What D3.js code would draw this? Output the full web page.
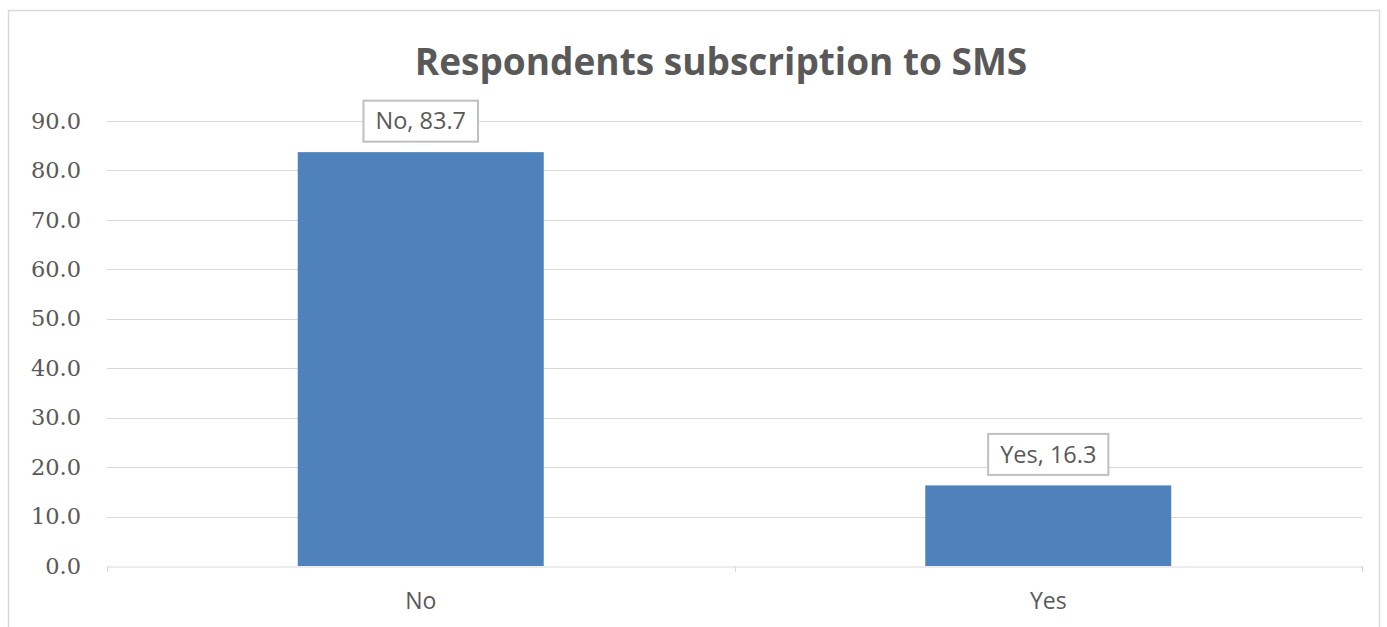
<!DOCTYPE html>
<html><head><meta charset="utf-8">
<script src="https://cdn.jsdelivr.net/npm/d3@7"></script>
<style>body{margin:0;background:#fff}svg{display:block}</style>
</head><body>
<svg id="c" width="1387" height="627"></svg>
<script>
const title = "Respondents subscription to SMS";
const categories = ["No", "Yes"];
const values = [83.7, 16.3];
const yTicks = [0, 10, 20, 30, 40, 50, 60, 70, 80, 90];

const svg = d3.select("#c");
const W = 1387, H = 627;
const m = {left: 107, right: 25, top: 121, bottom: 61};
const textColor = "#595959";

svg.append("rect").attr("x", 8.5).attr("y", 10.5).attr("width", 1371).attr("height", 630)
  .attr("fill", "#fff").attr("stroke", "#d9d9d9").attr("stroke-width", 1.5);

const x = d3.scaleBand().domain(categories).range([m.left, W - m.right]).padding(0);
const y = d3.scaleLinear().domain([0, 90]).range([H - m.bottom, m.top]);

// gridlines
svg.append("g").selectAll("line").data(yTicks.filter(d => d > 0)).join("line")
  .attr("x1", m.left).attr("x2", W - m.right)
  .attr("y1", d => Math.round(y(d)) + 0.5).attr("y2", d => Math.round(y(d)) + 0.5)
  .attr("stroke", "#d9d9d9").attr("stroke-width", 1);

// y labels
const yAxis = svg.append("g").attr("transform", `translate(${m.left},0)`)
  .call(d3.axisLeft(y).tickValues(yTicks).tickFormat(d3.format(".1f")).tickSize(0).tickPadding(26));
yAxis.select(".domain").remove();
yAxis.selectAll("text").attr("fill", textColor).style("font-family", "'DejaVu Serif'")
  .style("font-size", "22.5px");

// bars
const bw = x.bandwidth() * 0.392;
svg.append("g").selectAll("rect").data(values).join("rect")
  .attr("x", (d, i) => x(categories[i]) + (x.bandwidth() - bw) / 2)
  .attr("width", bw)
  .attr("y", d => y(d))
  .attr("height", d => y(0) - y(d))
  .attr("fill", "#4f81bd");

// x axis
const xAxis = svg.append("g").attr("transform", `translate(0,${Math.round(y(0)) + 0.5})`)
  .call(d3.axisBottom(x).tickSize(0).tickPadding(26));
xAxis.select(".domain").attr("stroke", "#d9d9d9");
xAxis.selectAll("text").attr("fill", textColor).style("font-family", "'Open Sans'").style("font-size", "23px");
// category boundary tick marks
const bounds = [m.left, x("Yes"), W - m.right];
svg.append("g").selectAll("line").data(bounds).join("line")
  .attr("x1", d => Math.round(d) + 0.5).attr("x2", d => Math.round(d) + 0.5)
  .attr("y1", y(0)).attr("y2", y(0) + 6).attr("stroke", "#d9d9d9");

// data labels
const lab = svg.append("g").selectAll("g").data(values).join("g")
  .attr("transform", (d, i) => `translate(${x(categories[i]) + x.bandwidth() / 2},${y(d) - 31})`);
lab.each(function(d, i) {
  const g = d3.select(this);
  const t = g.append("text").attr("text-anchor", "middle").attr("dy", "0.35em")
    .attr("fill", textColor).style("font-family", "'Open Sans'").style("font-size", "23.5px")
    .text(`${categories[i]}, ${d.toFixed(1)}`);
  const bb = t.node().getBBox();
  g.insert("rect", "text").attr("x", bb.x - 12).attr("y", -20.5).attr("width", bb.width + 24).attr("height", 41)
    .attr("fill", "#fff").attr("stroke", "#bfbfbf").attr("stroke-width", 2);
});

// title
svg.append("text").attr("x", 721).attr("y", 75).attr("text-anchor", "middle")
  .attr("fill", textColor).style("font-family", "'Open Sans'").style("font-weight", "bold")
  .style("font-size", "37px").text(title);
</script>
</body></html>
